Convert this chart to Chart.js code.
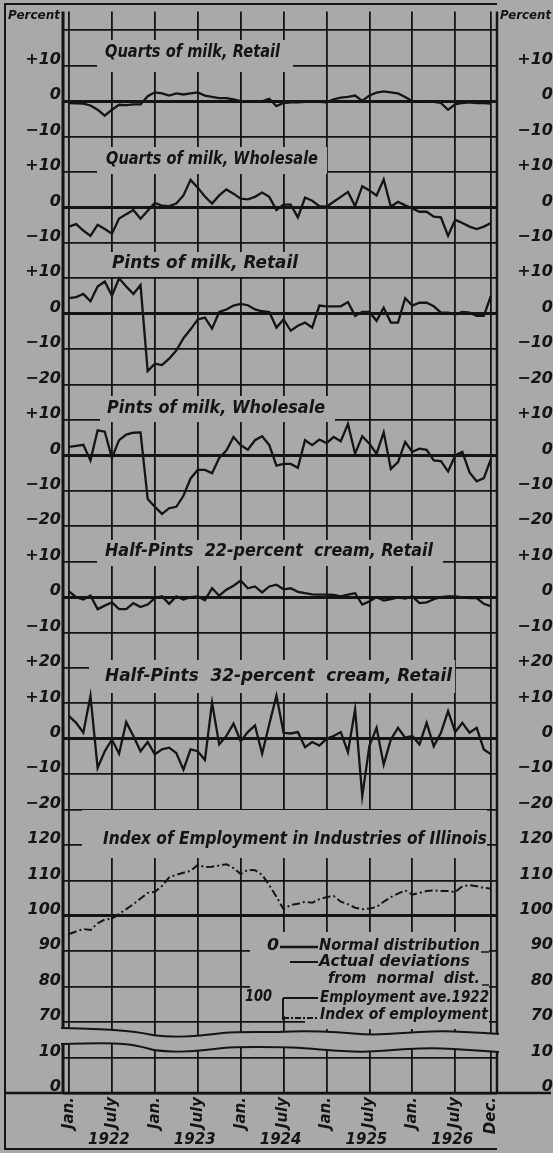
<!DOCTYPE html>
<html><head><meta charset="utf-8">
<script src="https://cdn.jsdelivr.net/npm/chart.js@4/dist/chart.umd.min.js"></script>
<style>html,body{margin:0;padding:0;background:#a9a9a9;overflow:hidden}canvas{display:block}</style>
</head><body>
<canvas id="c" width="553" height="1153"></canvas>
<script>
// ---------- DATA ----------
const years = [1922, 1923, 1924, 1925, 1926];
const monthNames = ['Jan','Feb','Mar','Apr','May','Jun','Jul','Aug','Sep','Oct','Nov','Dec'];
const months = [];
years.forEach(y => monthNames.forEach(m => months.push(m + ' ' + y)));

const quartsRetail = [-0.5,-0.6,-0.7,-1.2,-2.4,-4.1,-2.4,-1.0,-1.1,-0.9, -0.9,1.4,2.5,2.2,1.6,2.2,1.9,2.2,2.5,1.6, 1.2,0.9,0.9,0.5,0,0,0,0,0.7,-1.4, -0.5,-0.3,-0.3,-0.2,-0.2,-0.2,-0.3,0.5,1.0,1.2, 1.6,0.1,1.6,2.4,2.8,2.5,2.2,1.2,0,-0.1, -0.2,-0.2,-0.5,-2.4,-0.9,-0.5,-0.3,-0.5,-0.5,-0.7];
const quartsWholesale = [-5.4,-4.7,-6.5,-8.0,-4.9,-6.1,-7.4,-3.1,-1.9,-0.7, -3.2,-0.9,1.3,0.5,0.4,1.1,3.4,7.8,5.6,3.1, 1.1,3.4,5.1,3.9,2.5,2.3,3.0,4.2,3.0,-0.7, 0.8,0.8,-2.8,2.8,1.9,0.4,0.2,1.6,3.0,4.4, 0.4,6.0,4.8,3.4,7.9,0.2,1.6,0.6,-0.3,-1.2, -1.2,-2.6,-2.8,-8.0,-3.5,-4.4,-5.4,-6.1,-5.4,-4.4];
const pintsRetail = [4.4,4.7,5.6,3.5,7.7,9.1,5.1,10.0,7.7,5.6, 8.1,-16.2,-14.1,-14.5,-12.7,-10.4,-6.9,-4.4,-1.6,-1.1, -4.2,0.5,1.2,2.3,2.8,2.4,1.2,0.7,0.5,-3.9, -1.6,-4.8,-3.4,-2.5,-3.9,2.3,2.1,2.1,2.1,3.3, -0.6,0.5,0.5,-2.0,1.7,-2.5,-2.5,4.4,2.3,3.1, 3.1,2.1,0.3,0.3,-0.2,0.5,0.3,-0.6,-0.6,5.1];
const pintsWholesale = [2.4,2.7,3.0,-1.4,7.1,6.7,-0.7,4.3,5.9,6.4, 6.5,-12.3,-14.5,-16.5,-14.9,-14.5,-11.4,-6.5,-4.1,-4.1, -5.0,-0.7,1.4,5.2,2.9,1.6,4.3,5.4,2.9,-2.9, -2.4,-2.4,-3.5,4.3,2.9,4.5,3.5,5.2,4.0,8.9, 0.5,5.4,3.3,0.5,6.5,-3.8,-1.9,3.8,1.0,1.9, 1.6,-1.4,-1.6,-4.5,0,1.0,-4.8,-7.3,-6.4,-1.0];
const halfPints22 = [1.6,0,-0.7,0.4,-3.4,-2.4,-1.5,-3.4,-3.4,-1.7, -2.8,-2.1,-0.3,0.2,-1.9,0.2,-0.7,0,0.2,-0.9, 2.5,0.4,2.1,3.2,4.7,2.5,3.0,1.3,3.0,3.5, 2.2,2.5,1.5,1.1,0.8,0.7,0.7,0.6,0.2,0.7, 1.1,-2.1,-1.2,0,-1.0,-0.6,-0.1,-0.4,0.2,-1.7, -1.5,-0.6,0,0.2,0.2,-0.1,-0.3,-0.3,-1.9,-2.6];
const halfPints32 = [6.4,4.5,1.7,12.1,-8.2,-3.5,-0.2,-4.2,4.7,0.8, -3.5,-0.9,-4.4,-3.0,-2.5,-4.0,-8.7,-3.0,-3.5,-6.0, 10.2,-1.6,0.8,4.3,-0.7,1.9,3.8,-4.2,4.1,12.2, 1.7,1.5,1.9,-2.4,-0.9,-1.9,0,0.8,1.9,-3.8, 8.3,-16.2,-2.0,3.1,-7.3,-0.2,3.1,0.3,0.8,-1.6, 4.5,-2.1,1.7,7.8,1.9,4.5,1.7,3.1,-3.0,-4.4];
const employment = [94.9,95.6,96.3,96.0,97.9,99.0,99.2,100.5,101.9,103.3, 104.9,106.5,106.8,108.4,110.9,111.6,112.2,112.7,114.4,113.8, 113.9,114.2,114.6,113.5,111.8,113.0,112.9,111.6,108.7,105.4, 101.9,103.1,103.4,104.0,103.7,104.7,105.3,105.6,104.0,103.3, 102.3,101.9,102.1,102.5,104.0,105.3,106.3,107.2,106.0,106.5, 107.0,107.2,107.0,107.0,106.7,108.4,108.7,108.4,107.9,107.7];

const panelTitles = ['Quarts of milk, Retail','Quarts of milk, Wholesale','Pints of milk, Retail','Pints of milk, Wholesale','Half-Pints  22-percent  cream, Retail','Half-Pints  32-percent  cream, Retail','Index of Employment in Industries of Illinois'];
// tick labels for grid rows, bottom (0) to top (30)
const yTickLabels = ['0','10','70','80','90','100','110','120','\u221220','\u221210','0','+10','+20','\u221210','0','+10','\u221220','\u221210','0','+10','\u221220','\u221210','0','+10','\u221210','0','+10','\u221210','0','+10',''];
const xTickMonths = [0,6,12,18,24,30,36,42,48,54,59];
const xTickLabels = ['Jan.','July','Jan.','July','Jan.','July','Jan.','July','Jan.','July','Dec.'];
const yearLabels = ['1922','1923','1924','1925','1926'];
const legendTexts = ['Normal distribution','Actual deviations','from  normal  dist.','Employment ave.1922','Index of employment'];

// ---------- LAYOUT / STYLE ----------
const PAPER = '#a9a9a9', INK = '#141414';
const FONT = '"DejaVu Sans", "Liberation Sans", sans-serif';
const YMAX = 30.53;
const panelZeroRow = [28, 25, 22, 18, 14, 10, 5];
const panelBase = [0, 0, 0, 0, 0, 0, 100];
const thickRows = [28, 25, 22, 18, 14, 10, 5];
const seriesList = [quartsRetail, quartsWholesale, pintsRetail, pintsWholesale, halfPints22, halfPints32, employment];

// title layout: text x0,x1,cy ; cover box x0,x1,y0,y1
const titleLayout = [
  [105,280,53, 97,293,40,72],
  [106,318,160, 97,327,147,174],
  [112,298,264, 90,308,252,277],
  [107,325,409, 100,335,396,422],
  [105,433,552, 97,443,540,566],
  [105,452,677, 89,455,660,693],
  [103,487,840, 82,487,810,858]
];

const scales = {
  x: {
    type: 'linear', min: -0.84, max: 59.84, position: 'bottom',
    afterBuildTicks: s => { s.ticks = xTickMonths.map(v => ({value: v})); },
    afterFit: s => { s.height = 60; },
    grid: {color: INK, lineWidth: 1.8, drawTicks: false},
    border: {display: false},
    ticks: {autoSkip: false, minRotation: 90, maxRotation: 90, padding: 4, color: INK,
      font: {family: FONT, size: 15, style: 'italic', weight: 'bold'},
      callback: v => { const i = xTickMonths.indexOf(v); return i >= 0 ? xTickLabels[i] : ''; }}
  },
  y: {
    type: 'linear', position: 'left', min: 0, max: YMAX,
    afterBuildTicks: s => { s.ticks = yTickLabels.map((_, i) => ({value: i})); },
    afterFit: s => { s.width = 58; },
    grid: {color: INK, lineWidth: c => thickRows.includes(c.tick.value) ? 3 : (c.tick.value === 0 ? 2.5 : 1.8), drawTicks: false},
    border: {display: false},
    ticks: {autoSkip: false, padding: 2, labelOffset: -6, color: INK,
      font: {family: FONT, size: 16, style: 'italic', weight: 'bold'},
      callback: v => yTickLabels[v] ?? ''}
  },
  y2: {
    type: 'linear', position: 'right', min: 0, max: YMAX,
    afterBuildTicks: s => { s.ticks = yTickLabels.map((_, i) => ({value: i})); },
    afterFit: s => { s.width = 56; },
    grid: {display: false, drawTicks: false},
    border: {display: false},
    ticks: {autoSkip: false, padding: 2, labelOffset: -6, crossAlign: 'far', color: INK,
      font: {family: FONT, size: 16, style: 'italic', weight: 'bold'},
      callback: v => yTickLabels[v] ?? ''}
  }
};
seriesList.forEach((_, k) => {
  scales['p' + k] = {type: 'linear', display: false,
    min: panelBase[k] - panelZeroRow[k] * 10, max: panelBase[k] + (YMAX - panelZeroRow[k]) * 10};
});

const datasets = seriesList.map((vals, k) => ({
  data: vals.map((v, i) => ({x: i, y: v})),
  yAxisID: 'p' + k,
  borderColor: INK, borderWidth: k === 6 ? 2 : 2.3,
  borderDash: k === 6 ? [8, 3, 2, 3] : [],
  pointRadius: 0, tension: 0, fill: false
}));

function fitText(ctx, txt, x0, x1, cy, font) {
  ctx.font = font;
  const w = ctx.measureText(txt).width;
  ctx.save();
  ctx.translate(x0, cy);
  ctx.scale((x1 - x0) / w, 1);
  ctx.textAlign = 'left'; ctx.textBaseline = 'middle';
  ctx.fillText(txt, 0, 0);
  ctx.restore();
}
function line(ctx, x0, y0, x1, y1, w) {
  ctx.lineWidth = w; ctx.beginPath(); ctx.moveTo(x0, y0); ctx.lineTo(x1, y1); ctx.stroke();
}
function smooth(ctx, pts, move) {
  if (move) ctx.moveTo(pts[0][0], pts[0][1]); else ctx.lineTo(pts[0][0], pts[0][1]);
  for (let i = 1; i < pts.length - 1; i++) {
    const mx = (pts[i][0] + pts[i + 1][0]) / 2, my = (pts[i][1] + pts[i + 1][1]) / 2;
    ctx.quadraticCurveTo(pts[i][0], pts[i][1], mx, my);
  }
  const l = pts[pts.length - 1]; ctx.lineTo(l[0], l[1]);
}
const waveTop = [[61,1028],[100,1029],[127,1031],[143,1033],[157,1036],[187,1037],[213,1034],[233,1032],[280,1032],[303,1031],[337,1032],[370,1035],[403,1033],[437,1031],[470,1032],[499,1034]];
const waveBot = [[61,1044],[100,1043],[127,1044],[143,1047],[157,1051],[187,1052],[213,1049],[233,1047],[280,1047],[303,1048],[337,1051],[370,1052],[403,1049],[437,1048],[470,1050],[499,1052]];

const decor = {
  id: 'decor',
  beforeDatasetsDraw(chart) {
    const {ctx, chartArea: ca, scales: s} = chart;
    const X = m => s.x.getPixelForValue(m);
    ctx.save();
    ctx.fillStyle = PAPER;
    titleLayout.forEach(t => ctx.fillRect(t[3], t[5], t[4] - t[3], t[6] - t[5]));
    // legend cover
    ctx.fillRect(250, 932, 239, 84);
    ctx.fillRect(305, 1015, 184, 14);
    // wave band
    ctx.beginPath();
    smooth(ctx, waveTop, true);
    smooth(ctx, waveBot.slice().reverse(), false);
    ctx.closePath(); ctx.fill();
    ctx.strokeStyle = INK; ctx.lineCap = 'butt';
    ctx.lineWidth = 2;
    ctx.beginPath(); smooth(ctx, waveTop, true); ctx.stroke();
    ctx.beginPath(); smooth(ctx, waveBot, true); ctx.stroke();
    // frame
    line(ctx, ca.left, ca.top, ca.left, 1028, 3);
    line(ctx, ca.left, 1044, ca.left, ca.bottom, 3);
    line(ctx, ca.right, ca.top, ca.right, 1034, 2.5);
    line(ctx, ca.right, 1052, ca.right, ca.bottom, 2.5);
    line(ctx, 5, 3, 5, 1150, 2);
    line(ctx, 5, 4, ca.right, 4, 2);
    line(ctx, 5, ca.bottom, 551, ca.bottom, 2.5);
    line(ctx, 5, 1149, ca.right, 1149, 2);
    // titles
    ctx.fillStyle = INK;
    panelTitles.forEach((t, k) => {
      const L = titleLayout[k];
      fitText(ctx, t, L[0], L[1], L[2], 'italic bold 17px ' + FONT);
    });
    // Percent
    fitText(ctx, 'Percent', 8, 60, 16, 'italic bold 13px ' + FONT);
    fitText(ctx, 'Percent', 500, 551, 16, 'italic bold 13px ' + FONT);
    // years
    ctx.font = 'italic bold 15px ' + FONT;
    ctx.textAlign = 'center'; ctx.textBaseline = 'middle';
    yearLabels.forEach((y, k) => ctx.fillText(y, X(6 + 12 * k) - 3, 1140));
    // legend
    const lf = 'italic bold 16px ' + FONT;
    fitText(ctx, '0', 267, 279, 946, lf);
    line(ctx, 280, 947, 318, 947, 2.5);
    fitText(ctx, legendTexts[0], 319, 480, 946, lf);
    line(ctx, 481, 952, 489, 952, 1.5);
    line(ctx, 290, 962, 318, 962, 2);
    fitText(ctx, legendTexts[1], 319, 470, 962, lf);
    fitText(ctx, legendTexts[2], 328, 480, 979, lf);
    line(ctx, 482, 985, 489, 985, 1.5);
    fitText(ctx, '100', 245, 272, 997, lf);
    line(ctx, 283, 998, 283, 1020, 2);
    line(ctx, 283, 998, 318, 998, 2);
    fitText(ctx, legendTexts[3], 320, 489, 998, lf);
    ctx.save(); ctx.setLineDash([6, 2, 2, 2]); line(ctx, 283, 1018, 318, 1018, 1.8); ctx.restore();
    fitText(ctx, legendTexts[4], 320, 488, 1015, lf);
    ctx.restore();
  }
};

new Chart(document.getElementById('c'), {
  type: 'line',
  data: {labels: months, datasets},
  options: {
    responsive: false, animation: false, devicePixelRatio: 1,
    layout: {padding: {left: 5, right: 0, top: 4, bottom: 0}},
    plugins: {legend: {display: false}, tooltip: {enabled: false}},
    scales
  },
  plugins: [decor]
});
</script>
</body></html>
